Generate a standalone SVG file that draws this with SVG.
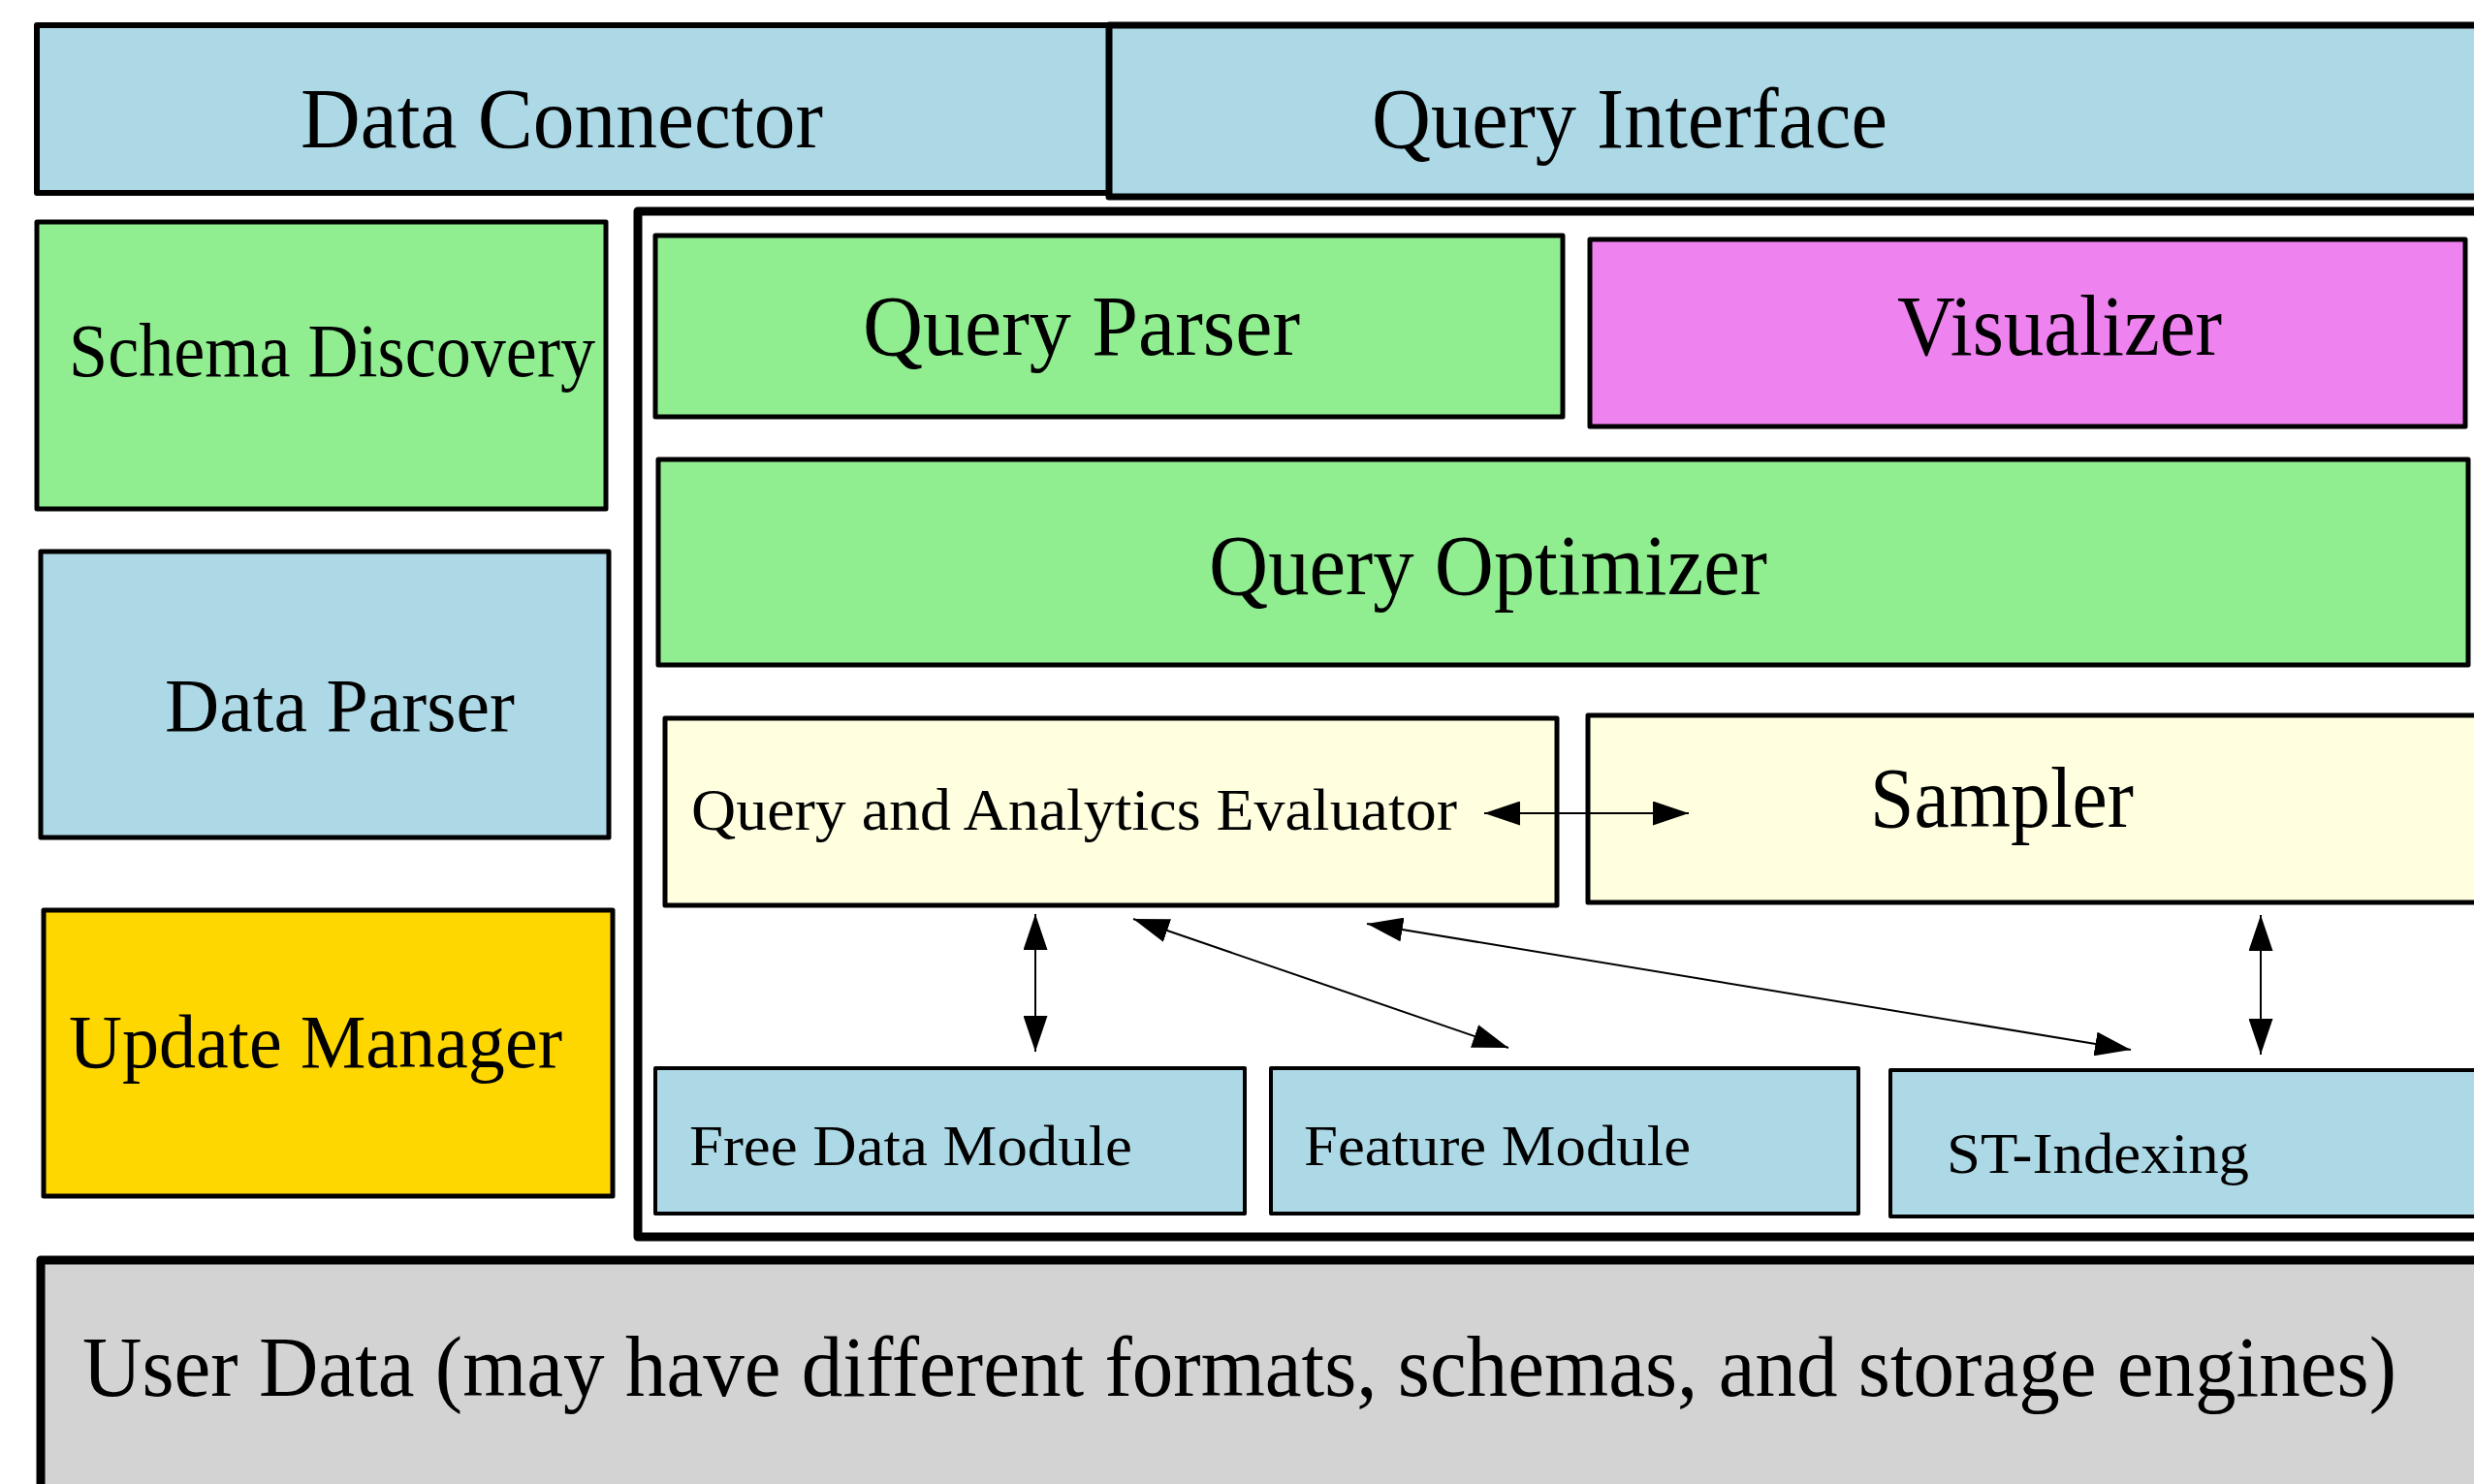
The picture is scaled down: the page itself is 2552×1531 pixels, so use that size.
<svg xmlns="http://www.w3.org/2000/svg" width="2552" height="1531" viewBox="0 0 2552 1531">
  <style>
    .box { stroke: #000; stroke-linejoin: round; }
    .lbl { font-family: "Liberation Serif", "DejaVu Serif", serif; fill: #000; }
    .blue { fill: #ADD8E6; }
    .green { fill: #90EE90; }
    .violet { fill: #EE82EE; }
    .gold { fill: #FFD700; }
    .yellow { fill: #FFFFE0; }
    .gray { fill: #D3D3D3; }
    .conn { stroke: #000; stroke-width: 2; fill: none; marker-start: url(#head); marker-end: url(#head); }
  </style>
  <defs>
    <marker id="head" viewBox="0 0 37 25" refX="37" refY="12.5" markerWidth="37" markerHeight="25" markerUnits="userSpaceOnUse" orient="auto-start-reverse">
      <path d="M0,0 L37,12.5 L0,25 Z" fill="#000"/>
    </marker>
  </defs>
  <rect width="2552" height="1531" fill="#fff"/>

  <!-- top row -->
  <g id="data-connector">
    <rect class="box blue" x="38" y="26" width="1106" height="173" stroke-width="6"/>
    <text class="lbl" x="310" y="152" font-size="89" textLength="539" lengthAdjust="spacingAndGlyphs">Data Connector</text>
  </g>
  <g id="query-interface">
    <rect class="box blue" x="1144" y="26" width="1440" height="177" stroke-width="7"/>
    <text class="lbl" x="1415" y="152" font-size="89" textLength="532" lengthAdjust="spacingAndGlyphs">Query Interface</text>
  </g>

  <!-- left column -->
  <g id="schema-discovery">
    <rect class="box green" x="38" y="229" width="587" height="296" stroke-width="5"/>
    <text class="lbl" x="71" y="388" font-size="78" textLength="543" lengthAdjust="spacingAndGlyphs">Schema Discovery</text>
  </g>
  <g id="data-parser">
    <rect class="box blue" x="42" y="569" width="586" height="295" stroke-width="5"/>
    <text class="lbl" x="170" y="754" font-size="78" textLength="361" lengthAdjust="spacingAndGlyphs">Data Parser</text>
  </g>
  <g id="update-manager">
    <rect class="box gold" x="45" y="939" width="587" height="295" stroke-width="5"/>
    <text class="lbl" x="71" y="1101" font-size="78" textLength="509" lengthAdjust="spacingAndGlyphs">Update Manager</text>
  </g>

  <!-- query engine frame -->
  <g id="engine-frame">
    <rect class="box" x="658" y="218" width="1940" height="1058" fill="#fff" stroke-width="9"/>
  </g>
  <g id="query-parser">
    <rect class="box green" x="676" y="243" width="936" height="187" stroke-width="5"/>
    <text class="lbl" x="890" y="366" font-size="89" textLength="451" lengthAdjust="spacingAndGlyphs">Query Parser</text>
  </g>
  <g id="visualizer">
    <rect class="box violet" x="1640" y="247" width="903" height="193" stroke-width="5"/>
    <text class="lbl" x="1957" y="366" font-size="89" textLength="335" lengthAdjust="spacingAndGlyphs">Visualizer</text>
  </g>
  <g id="query-optimizer">
    <rect class="box green" x="679" y="474" width="1867" height="212" stroke-width="5"/>
    <text class="lbl" x="1247" y="613" font-size="89" textLength="576" lengthAdjust="spacingAndGlyphs">Query Optimizer</text>
  </g>
  <g id="evaluator">
    <rect class="box yellow" x="686" y="741" width="920" height="193" stroke-width="5"/>
    <text class="lbl" x="713" y="856" font-size="62" textLength="790" lengthAdjust="spacingAndGlyphs">Query and Analytics Evaluator</text>
  </g>
  <g id="sampler">
    <rect class="box yellow" x="1638" y="738" width="950" height="193" stroke-width="5"/>
    <text class="lbl" x="1929" y="853" font-size="89" textLength="272" lengthAdjust="spacingAndGlyphs">Sampler</text>
  </g>
  <g id="free-data-module">
    <rect class="box blue" x="676" y="1102" width="608" height="150" stroke-width="4"/>
    <text class="lbl" x="711" y="1202" font-size="60" textLength="457" lengthAdjust="spacingAndGlyphs">Free Data Module</text>
  </g>
  <g id="feature-module">
    <rect class="box blue" x="1311" y="1102" width="606" height="150" stroke-width="4"/>
    <text class="lbl" x="1345" y="1202" font-size="60" textLength="399" lengthAdjust="spacingAndGlyphs">Feature Module</text>
  </g>
  <g id="st-indexing">
    <rect class="box blue" x="1950" y="1104" width="640" height="151" stroke-width="4"/>
    <text class="lbl" x="2008" y="1210" font-size="60" textLength="312" lengthAdjust="spacingAndGlyphs">ST-Indexing</text>
  </g>

  <!-- storage layer -->
  <g id="user-data">
    <rect class="box gray" x="42" y="1300" width="2540" height="260" stroke-width="9"/>
    <text class="lbl" x="85" y="1440" font-size="88" textLength="2387" lengthAdjust="spacingAndGlyphs">User Data (may have different formats, schemas, and storage engines)</text>
  </g>

  <!-- connectors -->
  <g id="connectors">
    <line class="conn" x1="1531" y1="839" x2="1742" y2="839"/>
    <line class="conn" x1="1068" y1="943" x2="1068" y2="1085"/>
    <line class="conn" x1="1169" y1="948" x2="1556" y2="1081"/>
    <line class="conn" x1="1410" y1="953" x2="2198" y2="1083"/>
    <line class="conn" x1="2332" y1="944" x2="2332" y2="1088"/>
  </g>
</svg>
